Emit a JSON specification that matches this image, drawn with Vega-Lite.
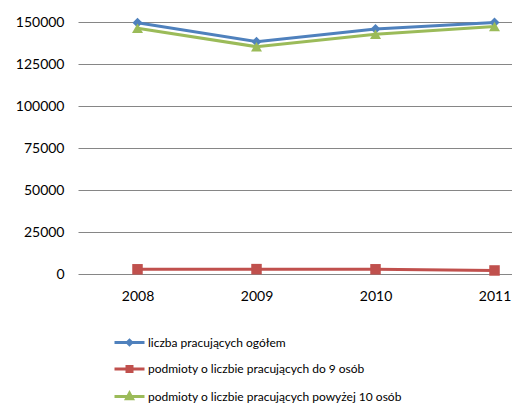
{
  "$schema": "https://vega.github.io/schema/vega-lite/v6.json",
  "width": 434,
  "height": 252,
  "autosize": {"type": "none"},
  "padding": {"left": 78, "top": 22, "right": 0, "bottom": 134},
  "background": "white",
  "config": {
    "view": {"stroke": null},
    "font": "Lato",
    "axis": {"labelFont": "Lato", "labelFontSize": 14, "labelColor": "#000000"}
  },
  "data": {
    "values": [
      {"year": 2008, "series": "liczba pracujących ogółem", "value": 149600},
      {"year": 2009, "series": "liczba pracujących ogółem", "value": 138300},
      {"year": 2010, "series": "liczba pracujących ogółem", "value": 145800},
      {"year": 2011, "series": "liczba pracujących ogółem", "value": 149700},
      {"year": 2008, "series": "podmioty o liczbie pracujących do 9 osób", "value": 2800},
      {"year": 2009, "series": "podmioty o liczbie pracujących do 9 osób", "value": 2900},
      {"year": 2010, "series": "podmioty o liczbie pracujących do 9 osób", "value": 2800},
      {"year": 2011, "series": "podmioty o liczbie pracujących do 9 osób", "value": 2100},
      {"year": 2008, "series": "podmioty o liczbie pracujących powyżej 10 osób", "value": 146300},
      {"year": 2009, "series": "podmioty o liczbie pracujących powyżej 10 osób", "value": 135300},
      {"year": 2010, "series": "podmioty o liczbie pracujących powyżej 10 osób", "value": 142700},
      {"year": 2011, "series": "podmioty o liczbie pracujących powyżej 10 osób", "value": 147300}
    ]
  },
  "encoding": {
    "x": {
      "field": "year", "type": "quantitative",
      "scale": {"domain": [2007.5, 2011.147], "nice": false, "zero": false},
      "axis": {"values": [2008, 2009, 2010, 2011], "format": "d", "grid": false, "domain": false, "ticks": false, "labelPadding": 15, "title": null}
    },
    "y": {
      "field": "value", "type": "quantitative",
      "scale": {"domain": [0, 150000], "nice": false},
      "axis": {"values": [0, 25000, 50000, 75000, 100000, 125000, 150000], "format": "d", "ticks": false, "domain": false, "labelPadding": 14, "title": null, "gridColor": "#868686", "gridWidth": 1}
    }
  },
  "layer": [
    {
      "mark": {"type": "line", "strokeWidth": 3},
      "encoding": {
        "color": {
          "field": "series", "type": "nominal",
          "scale": {
            "domain": ["liczba pracujących ogółem", "podmioty o liczbie pracujących do 9 osób", "podmioty o liczbie pracujących powyżej 10 osób"],
            "range": ["#4F81BD", "#C0504D", "#9BBB59"]
          },
          "legend": {
            "orient": "none", "legendX": 45, "legendY": 314, "title": null, "padding": 0,
            "labelFont": "Lato", "labelFontSize": 12, "labelColor": "#000000", "labelOffset": 12,
            "rowPadding": 9.5, "symbolSize": 100,
            "labelLimit": 400,
            "encode": {
              "symbols": {
                "update": {
                  "shape": {"signal": "datum.index === 0 ? 'M-3,0H3M0,-0.45L0.45,0L0,0.45L-0.45,0Z' : datum.index === 1 ? 'M-3,0H3M-0.5,-0.5H0.5V0.5H-0.5Z' : 'M-3,0H3M0,-0.65L0.6,0.45L-0.6,0.45Z'"},
                  "fill": {"scale": "color", "field": "value"},
                  "stroke": {"scale": "color", "field": "value"},
                  "strokeWidth": {"value": 3},
                  "size": {"value": 100},
                  "opacity": {"value": 1}
                }
              }
            }
          }
        }
      }
    },
    {
      "mark": {"type": "point", "filled": true, "opacity": 1},
      "encoding": {
        "color": {"field": "series", "type": "nominal", "legend": null},
        "shape": {
          "field": "series", "type": "nominal",
          "scale": {"range": ["diamond", "square", "triangle-up"]},
          "legend": null
        },
        "size": {
          "field": "series", "type": "ordinal",
          "scale": {"range": [100, 121, 150]},
          "legend": null
        }
      }
    }
  ]
}
